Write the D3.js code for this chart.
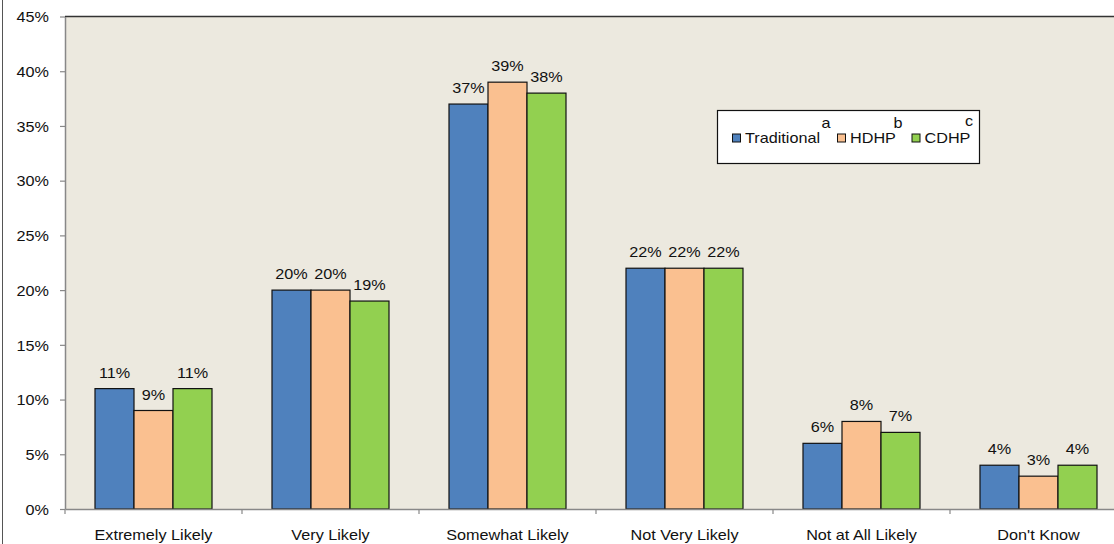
<!DOCTYPE html>
<html>
<head>
<meta charset="utf-8">
<script src="https://cdn.jsdelivr.net/npm/d3@7"></script>
<style>
  html, body { margin: 0; padding: 0; background: #fff; overflow: hidden; }
  svg { display: block; }
</style>
</head>
<body>
<div id="chart"></div>
<script>
var width = 1114;
var height = 544;

// data
var categories = ["Extremely Likely", "Very Likely", "Somewhat Likely", "Not Very Likely", "Not at All Likely", "Don't Know"];
var seriesNames = ["Traditional", "HDHP", "CDHP"];
var seriesSup = ["a", "b", "c"];
var traditional = [11, 20, 37, 22, 6, 4];
var hdhp = [9, 20, 39, 22, 8, 3];
var cdhp = [11, 19, 38, 22, 7, 4];
var yTicks = [0, 5, 10, 15, 20, 25, 30, 35, 40, 45];

var seriesValues = [traditional, hdhp, cdhp];
var colors = ["#4F81BD", "#FAC090", "#92D050"];

var plotLeft = 65;
var plotRight = 1127;   // runs past the window edge, like the original
var plotTop = 16.5;
var plotBottom = 509;
var fontSize = 15;
var sx = 1.08;          // the original text is a bit stretched sideways
var font = "Liberation Sans, Arial, Helvetica, sans-serif";

var svg = d3.select("#chart")
    .append("svg")
    .attr("width", width)
    .attr("height", height);

var x = d3.scaleBand()
    .domain(categories)
    .range([plotLeft, plotRight])
    .paddingInner(0.339)
    .paddingOuter(0.1695);

var xs = d3.scaleBand()
    .domain(seriesNames)
    .range([0, x.bandwidth()]);

var y = d3.scaleLinear()
    .domain([0, 45])
    .range([plotBottom, plotTop]);

function addText(parent, px, py, str, anchor) {
    return parent.append("text")
        .attr("transform", "translate(" + px + "," + py + ") scale(" + sx + ",1)")
        .attr("text-anchor", anchor || "middle")
        .style("font-family", font)
        .style("font-size", fontSize + "px")
        .attr("fill", "#111")
        .text(str);
}

// page border line on the left
svg.append("line")
    .attr("x1", 2.5).attr("x2", 2.5)
    .attr("y1", 0).attr("y2", height)
    .attr("stroke", "#555")
    .attr("stroke-width", 1);

// plot background
svg.append("rect")
    .attr("x", plotLeft)
    .attr("y", plotTop)
    .attr("width", plotRight - plotLeft)
    .attr("height", plotBottom - plotTop)
    .attr("fill", "#ECE9DF");

svg.append("line")
    .attr("x1", plotLeft).attr("x2", plotRight)
    .attr("y1", plotTop).attr("y2", plotTop)
    .attr("stroke", "#333")
    .attr("stroke-width", 1.5);

// bars
var groups = svg.selectAll("g.group")
    .data(categories)
    .enter()
    .append("g")
    .attr("class", "group")
    .attr("transform", function(d) { return "translate(" + x(d) + ",0)"; });

seriesNames.forEach(function(name, si) {
    groups.append("rect")
        .attr("x", xs(name))
        .attr("y", function(d, i) { return y(seriesValues[si][i]); })
        .attr("width", xs.bandwidth())
        .attr("height", function(d, i) { return y(0) - y(seriesValues[si][i]); })
        .attr("fill", colors[si])
        .attr("stroke", "#111")
        .attr("stroke-width", 1.2);

    groups.each(function(d, i) {
        addText(d3.select(this),
            xs(name) + xs.bandwidth() / 2,
            y(seriesValues[si][i]) - 11,
            seriesValues[si][i] + "%");
    });
});

// y axis
var yAxis = svg.append("g")
    .attr("transform", "translate(" + plotLeft + ",0)")
    .call(d3.axisLeft(y).tickValues(yTicks).tickFormat(function(d) { return d + "%"; }).tickSize(5).tickSizeOuter(0));

yAxis.select(".domain").attr("stroke", "#888").attr("stroke-width", 1.5);
yAxis.selectAll(".tick line").attr("stroke", "#888").attr("stroke-width", 1.2);
yAxis.selectAll(".tick text")
    .attr("x", null)
    .attr("dy", "0.35em")
    .attr("transform", "translate(-16,0) scale(" + sx + ",1)")
    .style("font-family", font)
    .style("font-size", fontSize + "px")
    .attr("fill", "#111");

// x axis
var xAxis = svg.append("g")
    .attr("transform", "translate(0," + plotBottom + ")")
    .call(d3.axisBottom(x).tickSize(0).tickSizeOuter(0));

xAxis.select(".domain").attr("stroke", "#888").attr("stroke-width", 1.5);
xAxis.selectAll(".tick text")
    .attr("y", null)
    .attr("dy", null)
    .attr("transform", "translate(0,30.5) scale(" + sx + ",1)")
    .style("font-family", font)
    .style("font-size", fontSize + "px")
    .attr("fill", "#111");

// tick marks between categories
var step = x.step();
xAxis.selectAll("line.sep")
    .data(categories)
    .enter()
    .append("line")
    .attr("class", "sep")
    .attr("x1", function(d) { return x(d) - (step - x.bandwidth()) / 2; })
    .attr("x2", function(d) { return x(d) - (step - x.bandwidth()) / 2; })
    .attr("y1", 0)
    .attr("y2", 5)
    .attr("stroke", "#888")
    .attr("stroke-width", 1.2);

// legend
var legend = svg.append("g");
legend.append("rect")
    .attr("x", 717.5)
    .attr("y", 110.5)
    .attr("width", 262)
    .attr("height", 53)
    .attr("fill", "#fff")
    .attr("stroke", "#111")
    .attr("stroke-width", 1.2);

var legendX = [732.5, 837.5, 912];
var supX = [826, 898, 969];
var supY = [128, 128, 126];
seriesNames.forEach(function(name, i) {
    legend.append("rect")
        .attr("x", legendX[i])
        .attr("y", 134)
        .attr("width", 8)
        .attr("height", 8)
        .attr("fill", colors[i])
        .attr("stroke", "#111")
        .attr("stroke-width", 1);
    addText(legend, legendX[i] + 12.5, 143, name, "start");
    addText(legend, supX[i], supY[i], seriesSup[i], "middle");
});
</script>
</body>
</html>
